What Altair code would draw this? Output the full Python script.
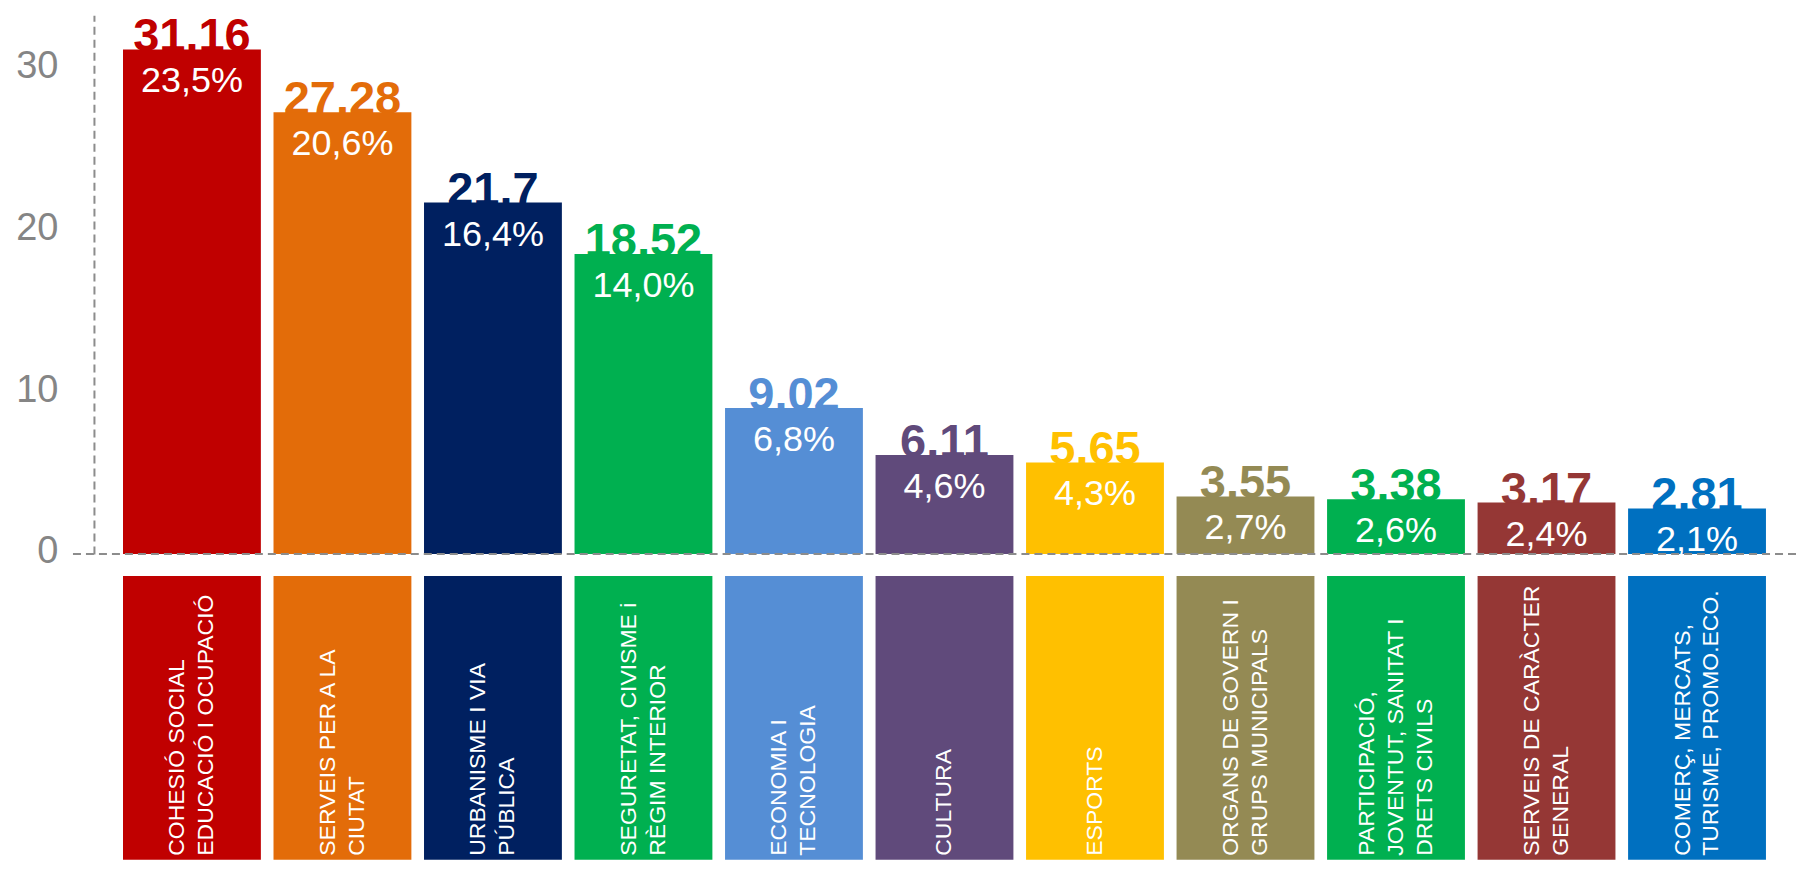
import altair as alt
import pandas as pd

# ---- data ----
categories = [
    "COHESIÓ SOCIAL|EDUCACIÓ I OCUPACIÓ",
    "SERVEIS PER A LA|CIUTAT",
    "URBANISME I VIA|PÚBLICA",
    "SEGURETAT, CIVISME i|RÈGIM INTERIOR",
    "ECONOMIA I|TECNOLOGIA",
    "CULTURA",
    "ESPORTS",
    "ORGANS DE GOVERN I|GRUPS MUNICIPALS",
    "PARTICIPACIÓ,|JOVENTUT, SANITAT I|DRETS CIVILS",
    "SERVEIS DE CARÀCTER|GENERAL",
    "COMERÇ, MERCATS,|TURISME, PROMO.ECO.",
]
values = [31.16, 27.28, 21.7, 18.52, 9.02, 6.11, 5.65, 3.55, 3.38, 3.17, 2.81]
value_labels = ["31.16", "27.28", "21.7", "18,52", "9.02", "6.11", "5.65",
                "3.55", "3.38", "3.17", "2.81"]
pct_labels = ["23,5%", "20,6%", "16,4%", "14,0%", "6,8%", "4,6%", "4,3%",
              "2,7%", "2,6%", "2,4%", "2,1%"]
colors = ["#C00000", "#E36C09", "#002060", "#00B050", "#558ED5", "#604A7B",
          "#FFC000", "#948A54", "#00B050", "#953735", "#0070C0"]
y_ticks = [0, 10, 20, 30]

df = pd.DataFrame({
    "cat": categories,
    "value": values,
    "vlabel": value_labels,
    "pct": pct_labels,
})
df["nlines"] = df["cat"].str.count(r"\|") + 1
zero_df = pd.DataFrame({"value": [0]})

# ---- layout ----
W = 1702
H_TOP = 539
Y_MAX = H_TOP / 16.2
H_BOT = 284
LINE_H = 29
FONT = "Liberation Sans"
GRAY = "#8c8c8c"

xscale = alt.Scale(domain=categories, paddingInner=0.084, paddingOuter=0.193)
xenc = alt.X("cat:N", sort=categories, scale=xscale, axis=None)
cenc = alt.Color("cat:N", scale=alt.Scale(domain=categories, range=colors), legend=None)
yscale = alt.Scale(domain=[0, Y_MAX], nice=False, zero=True)

base = alt.Chart(df)

value_text = base.mark_text(
    fontSize=47, fontWeight="bold", baseline="alphabetic", dy=2, font=FONT
).encode(x=xenc, y=alt.Y("value:Q", scale=yscale), text="vlabel:N", color=cenc)

bars = base.mark_bar().encode(
    x=xenc,
    y=alt.Y("value:Q", scale=yscale,
            axis=alt.Axis(values=y_ticks, title=None, grid=False, ticks=False,
                          labelFontSize=38, labelColor="#858585", labelFont=FONT,
                          labelPadding=36, labelOffset=-2,
                          domainColor=GRAY, domainDash=[8, 5], domainWidth=2)),
    color=cenc,
)

pct_text = base.mark_text(
    fontSize=36, baseline="middle", dy=32, color="white", font=FONT
).encode(x=xenc, y=alt.Y("value:Q", scale=yscale), text="pct:N")

baseline_rule = alt.Chart(zero_df).mark_rule(
    strokeDash=[8, 5], color=GRAY, strokeWidth=2
).encode(x=alt.value(-21), x2=alt.value(W + 3), y=alt.Y("value:Q", scale=yscale))

top = alt.layer(value_text, bars, pct_text, baseline_rule).properties(width=W, height=H_TOP)

boxes = alt.Chart(df).mark_bar().encode(x=xenc, color=cenc)
text_layers = []
for n in sorted(df["nlines"].unique()):
    text_layers.append(
        alt.Chart(df).transform_filter(alt.datum.nlines == int(n)).mark_text(
            angle=270, align="left", baseline="middle", lineBreak="|",
            fontSize=23, lineHeight=LINE_H, color="white", font=FONT,
            dy=-(int(n) - 1) * LINE_H / 2,
        ).encode(x=xenc, y=alt.value(H_BOT - 4), text="cat:N")
    )
bottom = alt.layer(boxes, *text_layers).properties(width=W, height=H_BOT)

chart = alt.vconcat(top, bottom, spacing=22).properties(
    bounds="flush",
    padding={"left": 7, "top": 5, "right": 0, "bottom": 0},
).configure(font=FONT).configure_view(stroke=None)

chart.save("out.html", embed_options={"renderer": "svg", "actions": False})
